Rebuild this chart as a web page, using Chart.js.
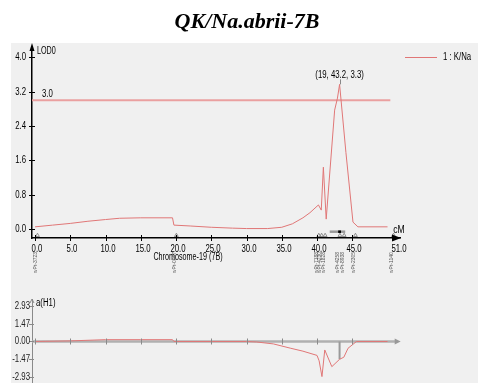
<!DOCTYPE html>
<html><head><meta charset="utf-8">
<script src="https://cdn.jsdelivr.net/npm/chart.js@4/dist/chart.umd.min.js"></script>
<style>
html,body{margin:0;padding:0;background:#fff;}
#wrap{position:relative;width:478px;height:383px;overflow:hidden;background:#fff;}
#panel{position:absolute;left:11px;top:43px;width:467px;height:340px;background:#f0f0f0;}
canvas{position:absolute;left:0;top:0;}
</style></head><body>
<div id="wrap"><div id="panel"></div>
<canvas id="c1" width="478" height="383"></canvas>
<canvas id="c2" width="478" height="383"></canvas>
</div>
<script>
// ---------- data ----------
const chartTitle = 'QK/Na.abrii-7B';
const seriesName = '1 : K/Na';
const xAxisName = 'Chromosome-19 (7B)';
const xUnit = 'cM';
const lodName = 'LOD0';
const effName = 'a(H1)';
const lodPos = [0, 2.5, 5, 7.5, 10, 12, 15, 19.5, 19.7, 22, 25, 28, 30, 33, 35, 36.5, 38, 39, 40.2, 40.6, 40.9, 41.3, 42.5, 42.9, 43.2, 44.1, 45.1, 45.8, 50];
const lodVal = [0.05, 0.09, 0.13, 0.18, 0.22, 0.25, 0.26, 0.26, 0.09, 0.07, 0.04, 0.02, 0.01, 0.01, 0.04, 0.12, 0.26, 0.38, 0.56, 0.44, 1.44, 0.23, 2.77, 3.05, 3.37, 1.78, 0.16, 0.05, 0.05];
const effPos = [0, 5, 10, 15, 19.5, 19.7, 25, 30, 31.4, 33.8, 36.2, 38, 40.0, 40.3, 40.7, 41.1, 42.1, 43.2, 43.8, 44.4, 45.6, 50];
const effVal = [0.0, 0.05, 0.15, 0.15, 0.15, 0.0, 0.0, 0.0, -0.04, -0.2, -0.55, -0.8, -1.15, -1.6, -2.9, -0.7, -2.08, -1.47, -1.3, -0.56, 0.0, 0.0];
const threshold = 3.0;
const thresholdEnd = 50.4;
const peakPos = 43.2;
const peakLabel = '(19, 43.2, 3.3)';
const peakEffect = -1.47;
const ciRange = [41.8, 44.0];
const xTickVals = [0, 5, 10, 15, 20, 25, 30, 35, 40, 45, 51];
const lodTickVals = [0, 0.8, 1.6, 2.4, 3.2, 4.0];
const effTickVals = [2.93, 1.47, 0, -1.47, -2.93];
const markerPos = [0, 19.7, 39.9, 40.3, 40.8, 42.9, 43.5, 45.1, 50.5];
const markerNames = ['wPt-3723', 'wPt-0057', 'wPt-7188', 'wPt-4230', 'wPt-1828', 'wPt-4258', 'wPt-8938', 'wPt-2305', 'wPt-1140'];

// ---------- style / layout ----------
const FONT = "'Liberation Sans', Arial, sans-serif";
const RED = '#e07676';
const X_MIN = -0.43, X_MAX = 51.77;

function fixedTicks(vals){ return s => { s.ticks = vals.map(v => ({value: v})); }; }
function narrow(ctx, text, x, y, align, size, sx){
  ctx.save();
  ctx.font = size + 'px ' + FONT;
  ctx.translate(x, y); ctx.scale(sx || 0.78, 1);
  ctx.textAlign = align; ctx.textBaseline = 'middle';
  ctx.fillText(text, 0, 0);
  ctx.restore();
}

const topDecor = {
  id: 'topDecor',
  afterDraw(chart){
    const {ctx, chartArea: a, scales: {x, y}} = chart;
    ctx.save();
    // title
    ctx.fillStyle = '#000';
    ctx.font = 'italic bold 22px "Liberation Serif", "Times New Roman", serif';
    ctx.textAlign = 'center'; ctx.textBaseline = 'alphabetic';
    ctx.fillText(chartTitle, 247, 28);
    // cross ticks + labels
    ctx.strokeStyle = '#000'; ctx.lineWidth = 1;
    xTickVals.forEach(v => {
      const px = Math.round(x.getPixelForValue(v)) + 0.5;
      if (v < 50) { ctx.beginPath(); ctx.moveTo(px, a.bottom - 3); ctx.lineTo(px, a.bottom + 3); ctx.stroke(); }
      narrow(ctx, v.toFixed(1), px + 1.5 + (v > 50 ? 2 : 0), a.bottom + 11, 'center', 10);
    });
    lodTickVals.forEach(v => {
      const py = Math.round(y.getPixelForValue(v)) + 0.5;
      ctx.beginPath(); ctx.moveTo(a.left - 3, py); ctx.lineTo(a.left + 3, py); ctx.stroke();
      narrow(ctx, v.toFixed(1), a.left - 6, py, 'right', 10);
    });
    // arrows
    ctx.fillStyle = '#000';
    ctx.beginPath(); ctx.moveTo(a.right + 1, a.bottom); ctx.lineTo(a.right - 8, a.bottom - 3.5); ctx.lineTo(a.right - 8, a.bottom + 3.5); ctx.closePath(); ctx.fill();
    ctx.beginPath(); ctx.moveTo(a.left, a.top - 4); ctx.lineTo(a.left - 2.5, a.top + 4); ctx.lineTo(a.left + 2.5, a.top + 4); ctx.closePath(); ctx.fill();
    // axis names
    narrow(ctx, lodName, a.left + 5, a.top + 4, 'left', 10, 0.72);
    narrow(ctx, xUnit, a.right - 1, a.bottom - 8, 'center', 11);
    narrow(ctx, xAxisName, 188, 257, 'center', 10, 0.72);
    // threshold label
    narrow(ctx, threshold.toFixed(1), a.left + 10, y.getPixelForValue(threshold) - 6, 'left', 10);
    // peak label
    const ppx = x.getPixelForValue(peakPos), ppy = y.getPixelForValue(lodVal[lodPos.indexOf(peakPos)]);
    ctx.strokeStyle = '#888'; ctx.beginPath(); ctx.moveTo(Math.round(ppx) + 0.5, ppy); ctx.lineTo(Math.round(ppx) + 0.5, ppy - 5); ctx.stroke();
    ctx.fillStyle = '#000';
    narrow(ctx, peakLabel, ppx, ppy - 9, 'center', 10);
    // legend
    const ly = a.top + 10;
    ctx.strokeStyle = RED; ctx.lineWidth = 1;
    ctx.beginPath(); ctx.moveTo(a.right + 5, ly + 0.5); ctx.lineTo(a.right + 37, ly + 0.5); ctx.stroke();
    narrow(ctx, chart.data.datasets[0].label, a.right + 43, ly, 'left', 10);
    // marker names
    ctx.fillStyle = '#555';
    markerPos.forEach((m, i) => {
      ctx.save(); ctx.translate(x.getPixelForValue(m) + 2, 273); ctx.rotate(-Math.PI / 2);
      ctx.font = '5px ' + FONT;
      ctx.textAlign = 'left'; ctx.textBaseline = 'alphabetic'; ctx.fillText(markerNames[i], 0, 0); ctx.restore();
    });
    ctx.restore();
  }
};

const botDecor = {
  id: 'botDecor',
  afterDraw(chart){
    const {ctx, chartArea: a, scales: {x, y}} = chart;
    ctx.save();
    const y0 = Math.round(y.getPixelForValue(0)) + 0.5;
    ctx.strokeStyle = '#8a8a8a'; ctx.lineWidth = 1;
    xTickVals.forEach(v => { if (v > 50) return; const px = Math.round(x.getPixelForValue(v)) + 0.5;
      ctx.beginPath(); ctx.moveTo(px, y0 - 3); ctx.lineTo(px, y0 + 3); ctx.stroke(); });
    ctx.fillStyle = '#222';
    effTickVals.forEach(v => { const py = Math.round(y.getPixelForValue(v)) + 0.5;
      ctx.beginPath(); ctx.moveTo(a.left - 3, py); ctx.lineTo(a.left + 2, py); ctx.stroke();
      narrow(ctx, v.toFixed(2), a.left - 2, py, 'right', 10);
    });
    // arrows
    const ax = x.getPixelForValue(51.3);
    ctx.fillStyle = '#999';
    ctx.beginPath(); ctx.moveTo(ax + 4, y0); ctx.lineTo(ax - 2, y0 - 3); ctx.lineTo(ax - 2, y0 + 3); ctx.closePath(); ctx.fill();
    ctx.beginPath(); ctx.moveTo(a.left - 2, a.top + 4); ctx.lineTo(a.left, a.top); ctx.lineTo(a.left + 2, a.top + 4); ctx.stroke();
    ctx.fillStyle = '#000';
    narrow(ctx, effName, a.left + 4, a.top + 4, 'left', 10);
    ctx.restore();
  }
};

const xCommon = { type: 'linear', min: X_MIN, max: X_MAX };

new Chart(document.getElementById('c1'), {
  type: 'line',
  data: { datasets: [
    { label: seriesName, data: lodPos.map((p, i) => ({x: p, y: lodVal[i]})), borderColor: RED, borderWidth: 1, pointRadius: 0, tension: 0, order: 0 },
    { label: 'threshold', data: [{x: X_MIN, y: threshold}, {x: thresholdEnd, y: threshold}], borderColor: '#eaa0a0', borderWidth: 2, pointRadius: 0, order: 1 },
    { label: 'ci', data: [{x: ciRange[0], y: -0.063}, {x: ciRange[1], y: -0.063}], borderColor: '#999', borderWidth: 2.5, pointRadius: 0, order: 2 },
    { label: 'ciPeak', data: [{x: peakPos - 0.2, y: -0.063}, {x: peakPos + 0.2, y: -0.063}], borderColor: '#000', borderWidth: 2.5, pointRadius: 0, order: 1 },
    { label: 'markers', type: 'scatter', data: markerPos.map(m => ({x: m + 0.35, y: -0.15})), pointStyle: 'triangle', pointRadius: 2.2, borderColor: '#777', borderWidth: 0.8, backgroundColor: 'rgba(0,0,0,0)', order: 3 }
  ]},
  options: {
    responsive: false, animation: false, devicePixelRatio: 1,
    layout: { padding: { top: 47, right: 78, left: 0, bottom: 115 } },
    plugins: { legend: { display: false }, title: { display: false }, tooltip: { enabled: false } },
    scales: {
      x: Object.assign({}, xCommon, {
        afterBuildTicks: fixedTicks(xTickVals),
        afterFit: s => { s.height = 30; },
        grid: { drawOnChartArea: false, drawTicks: false },
        border: { display: true, color: '#000', width: 1.5 },
        ticks: { display: false }
      }),
      y: {
        type: 'linear', min: -0.21, max: 4.24,
        afterBuildTicks: fixedTicks(lodTickVals),
        afterFit: s => { s.width = 32; },
        grid: { drawOnChartArea: false, drawTicks: false },
        border: { display: true, color: '#000', width: 1.5 },
        ticks: { display: false }
      }
    }
  },
  plugins: [topDecor]
});

new Chart(document.getElementById('c2'), {
  type: 'line',
  data: { datasets: [
    { label: seriesName, data: effPos.map((p, i) => ({x: p, y: effVal[i]})), borderColor: RED, borderWidth: 1, pointRadius: 0, tension: 0, order: 0 },
    { label: 'peakEffect', data: [{x: peakPos, y: 0}, {x: peakPos, y: peakEffect}], borderColor: '#9a9a9a', borderWidth: 2, pointRadius: 0, order: 1 },
    { label: 'axis', data: [{x: X_MIN, y: 0}, {x: 51.3, y: 0}], borderColor: '#b0b0b0', borderWidth: 2.5, pointRadius: 0, order: 2 }
  ]},
  options: {
    responsive: false, animation: false, devicePixelRatio: 1,
    layout: { padding: { top: 299, right: 78, left: 0, bottom: 0 } },
    plugins: { legend: { display: false }, title: { display: false }, tooltip: { enabled: false } },
    scales: {
      x: Object.assign({}, xCommon, { display: false, afterFit: s => { s.height = 0; } }),
      y: {
        type: 'linear', min: -3.43, max: 3.51,
        afterBuildTicks: fixedTicks(effTickVals),
        afterFit: s => { s.width = 32; },
        grid: { drawOnChartArea: false, drawTicks: false },
        border: { display: true, color: '#8a8a8a', width: 1 },
        ticks: { display: false }
      }
    }
  },
  plugins: [botDecor]
});
</script>
</body></html>
